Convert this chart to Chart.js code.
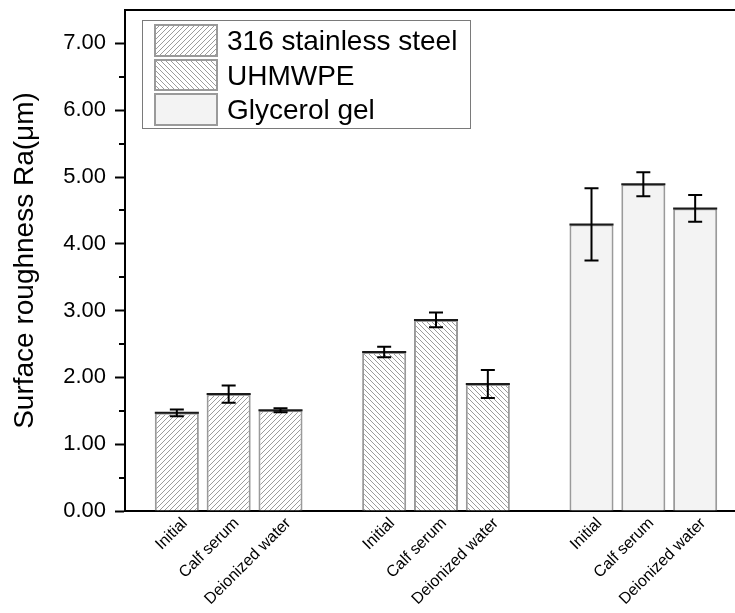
<!DOCTYPE html>
<html>
<head>
<meta charset="utf-8">
<script src="https://cdn.jsdelivr.net/npm/chart.js@4/dist/chart.umd.min.js"></script>
<style>
html,body{margin:0;padding:0;background:#fff;overflow:hidden;}
#wrap{width:747px;height:613px;}
</style>
</head>
<body>
<div id="wrap"><canvas id="c" width="747" height="613"></canvas></div>
<script>
// ---- data ----
const groups = ['316 stainless steel', 'UHMWPE', 'Glycerol gel'];
const conditions = ['Initial', 'Calf serum', 'Deionized water'];
const steelMean = [1.47, 1.75, 1.51];
const steelErr = [0.05, 0.13, 0.03];
const uhmwpeMean = [2.38, 2.86, 1.90];
const uhmwpeErr = [0.08, 0.11, 0.21];
const glycerolMean = [4.29, 4.89, 4.53];
const glycerolErr = [0.54, 0.18, 0.20];
const yTickValues = [0, 1, 2, 3, 4, 5, 6, 7];
const yTitle = 'Surface roughness Ra(\u03bcm)';

// category labels: empty slot before, between and after groups
const labels = [''];
groups.forEach(function (g, gi) {
  conditions.forEach(function (c) { labels.push(c); });
  labels.push('');
});

function placeGroup(gi, arr) {
  const out = labels.map(function () { return null; });
  arr.forEach(function (v, i) { out[1 + gi * 4 + i] = v; });
  return out;
}

// ---- patterns ----
function hatch(dir) {
  const s = 5;
  const cv = document.createElement('canvas');
  cv.width = s; cv.height = s;
  const g = cv.getContext('2d');
  g.fillStyle = '#ffffff';
  g.fillRect(0, 0, s, s);
  g.strokeStyle = '#9c9c9c';
  g.lineWidth = 1;
  g.beginPath();
  if (dir > 0) {
    g.moveTo(-1, s + 1); g.lineTo(s + 1, -1);
    g.moveTo(-1, 1); g.lineTo(1, -1);
    g.moveTo(s - 1, s + 1); g.lineTo(s + 1, s - 1);
  } else {
    g.moveTo(-1, -1); g.lineTo(s + 1, s + 1);
    g.moveTo(-1, s - 1); g.lineTo(1, s + 1);
    g.moveTo(s - 1, -1); g.lineTo(s + 1, 1);
  }
  g.stroke();
  return g.createPattern(cv, 'repeat');
}
const fills = [hatch(1), hatch(-1), '#f3f3f3'];
const means = [steelMean, uhmwpeMean, glycerolMean];
const errs = [steelErr, uhmwpeErr, glycerolErr];

const datasets = groups.map(function (g, gi) {
  return {
    label: g,
    data: placeGroup(gi, means[gi]),
    errors: placeGroup(gi, errs[gi]),
    backgroundColor: fills[gi],
    borderColor: '#9a9a9a',
    borderWidth: 2,
    grouped: false,
    barPercentage: 0.85,
    categoryPercentage: 1.0
  };
});

// ---- plugins ----
const decor = {
  id: 'decor',
  afterDatasetsDraw(chart) {
    const ctx = chart.ctx;
    const ys = chart.scales.y;
    const ca = chart.chartArea;
    ctx.save();
    // bar tops + error bars
    chart.data.datasets.forEach(function (ds, di) {
      const meta = chart.getDatasetMeta(di);
      meta.data.forEach(function (bar, i) {
        const v = ds.data[i];
        if (v === null || v === undefined) return;
        const e = ds.errors[i];
        const half = bar.width / 2;
        ctx.strokeStyle = '#1a1a1a';
        ctx.lineWidth = 2;
        ctx.beginPath();
        ctx.moveTo(bar.x - half, bar.y);
        ctx.lineTo(bar.x + half, bar.y);
        ctx.stroke();
        const yt = ys.getPixelForValue(v + e);
        const yb = ys.getPixelForValue(v - e);
        ctx.strokeStyle = '#000';
        ctx.lineWidth = 2;
        ctx.beginPath();
        ctx.moveTo(bar.x, yt); ctx.lineTo(bar.x, yb);
        ctx.moveTo(bar.x - 7, yt); ctx.lineTo(bar.x + 7, yt);
        ctx.moveTo(bar.x - 7, yb); ctx.lineTo(bar.x + 7, yb);
        ctx.stroke();
      });
    });
    // minor ticks on y axis
    ctx.strokeStyle = '#000';
    ctx.lineWidth = 2;
    ctx.beginPath();
    for (let k = 0; k < yTickValues.length; k++) {
      const mv = yTickValues[k] + 0.5;
      if (mv >= ys.max) break;
      const py = Math.round(ys.getPixelForValue(mv));
      ctx.moveTo(ca.left - 6, py);
      ctx.lineTo(ca.left, py);
    }
    ctx.stroke();
    // top frame line
    ctx.beginPath();
    ctx.moveTo(ca.left - 1, ca.top);
    ctx.lineTo(chart.width, ca.top);
    ctx.stroke();
    // legend
    const lx = 142, ly = 20, lw = 328, lh = 108;
    ctx.fillStyle = '#fff';
    ctx.fillRect(lx, ly, lw, lh);
    ctx.strokeStyle = '#7a7a7a';
    ctx.lineWidth = 1;
    ctx.strokeRect(lx + 0.5, ly + 0.5, lw, lh);
    const rowTop = [25, 60, 94];
    const rowH = [31, 30, 31];
    chart.data.datasets.forEach(function (ds, di) {
      const sx = 155, sw = 62;
      ctx.fillStyle = ds.backgroundColor;
      ctx.fillRect(sx, rowTop[di], sw, rowH[di]);
      ctx.strokeStyle = '#9a9a9a';
      ctx.lineWidth = 2;
      ctx.strokeRect(sx, rowTop[di], sw, rowH[di]);
      ctx.fillStyle = '#000';
      ctx.font = '28px "Liberation Sans", Arial, sans-serif';
      ctx.textBaseline = 'middle';
      ctx.textAlign = 'left';
      ctx.fillText(ds.label, 227, rowTop[di] + rowH[di] / 2 + 2);
    });
    ctx.restore();
  }
};

new Chart(document.getElementById('c'), {
  type: 'bar',
  data: { labels: labels, datasets: datasets },
  options: {
    responsive: false,
    animation: false,
    devicePixelRatio: 1,
    layout: { padding: { top: 10, right: 0, left: 0, bottom: 0 } },
    plugins: { legend: { display: false }, tooltip: { enabled: false } },
    scales: {
      x: {
        offset: false,
        grid: { display: false, drawTicks: false },
        border: { display: true, color: '#000', width: 2 },
        ticks: {
          autoSkip: false,
          maxRotation: 45,
          minRotation: 45,
          padding: 3,
          labelOffset: 8,
          color: '#000',
          font: { family: '"Liberation Sans", Arial, sans-serif', size: 16 }
        },
        afterFit(scale) { scale.height = 102; scale.paddingLeft = 0; scale.paddingRight = 0; }
      },
      y: {
        min: 0,
        max: 7.5,
        afterBuildTicks(scale) {
          scale.ticks = yTickValues.map(function (v) { return { value: v }; });
        },
        grid: { drawOnChartArea: false, drawTicks: true, tickLength: 10, tickWidth: 2, tickColor: '#000' },
        border: { display: true, color: '#000', width: 2 },
        ticks: {
          padding: 9,
          color: '#000',
          font: { family: '"Liberation Sans", Arial, sans-serif', size: 22 },
          callback: function (v) { return Number(v).toFixed(2); }
        },
        title: {
          display: true,
          text: yTitle,
          color: '#000',
          padding: { top: 8, bottom: 0 },
          font: { family: '"Liberation Sans", Arial, sans-serif', size: 28 }
        },
        afterFit(scale) { scale.width = 125; scale.paddingTop = 0; scale.paddingBottom = 0; }
      }
    }
  },
  plugins: [decor]
});
</script>
</body>
</html>
